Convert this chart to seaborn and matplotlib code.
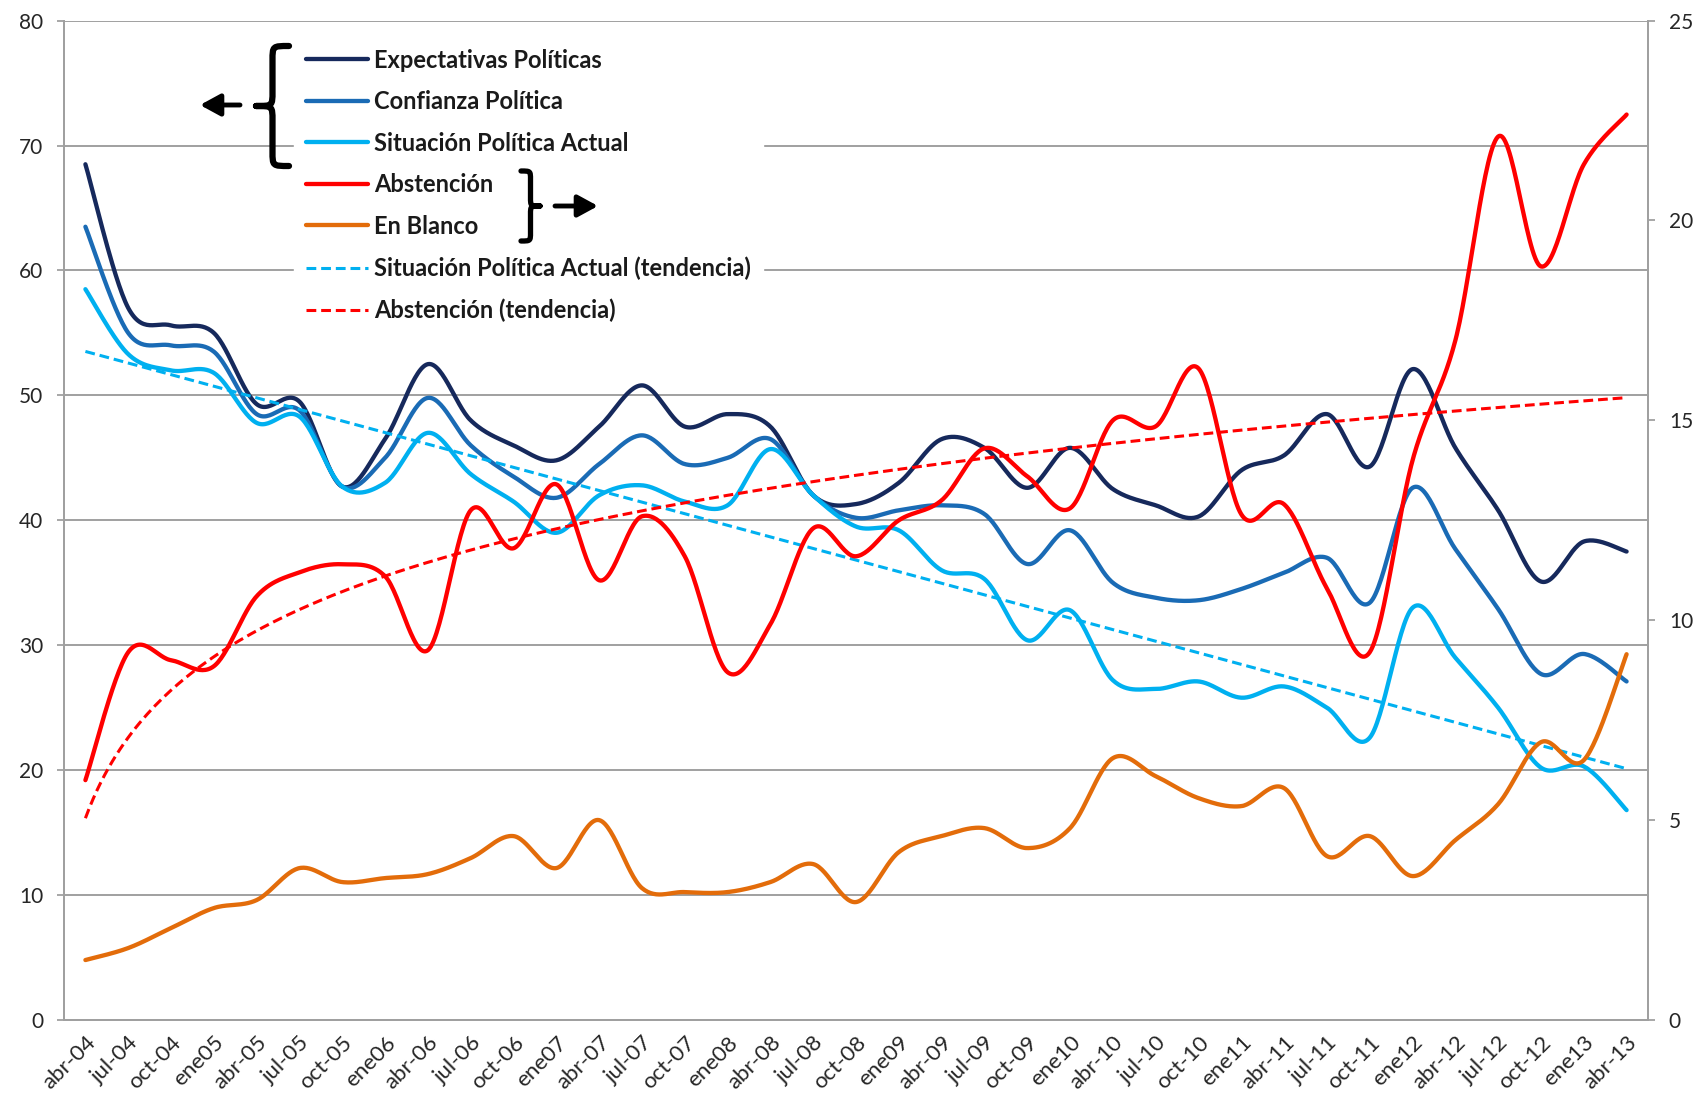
import numpy as np
import pandas as pd
import matplotlib
matplotlib.use("Agg")
import matplotlib.pyplot as plt
import seaborn as sns
from matplotlib.path import Path
from matplotlib.patches import PathPatch
from matplotlib.lines import Line2D

# ---------------- data ----------------
periods = ["abr-04", "jul-04", "oct-04", "ene05", "abr-05", "jul-05", "oct-05", "ene06",
           "abr-06", "jul-06", "oct-06", "ene07", "abr-07", "jul-07", "oct-07", "ene08",
           "abr-08", "jul-08", "oct-08", "ene09", "abr-09", "jul-09", "oct-09", "ene10",
           "abr-10", "jul-10", "oct-10", "ene11", "abr-11", "jul-11", "oct-11", "ene12",
           "abr-12", "jul-12", "oct-12", "ene13", "abr-13"]

expectativas = [68.5, 57.0, 55.6, 55.0, 49.3, 49.5, 42.7, 46.5, 52.5, 48.0, 46.0, 44.8,
                47.5, 50.8, 47.5, 48.5, 47.5, 42.0, 41.3, 43.0, 46.5, 45.8, 42.6, 45.8,
                42.5, 41.2, 40.3, 44.0, 45.2, 48.5, 44.3, 52.1, 45.8, 40.8, 35.1, 38.3, 37.5]

confianza = [63.5, 55.0, 54.0, 53.5, 48.5, 48.8, 42.7, 45.0, 49.8, 46.0, 43.5, 41.8,
             44.5, 46.8, 44.5, 45.0, 46.5, 42.0, 40.2, 40.8, 41.2, 40.5, 36.5, 39.2,
             35.0, 33.8, 33.6, 34.5, 35.8, 37.0, 33.4, 42.6, 37.7, 32.9, 27.7, 29.3, 27.1]

situacion = [58.5, 53.3, 52.0, 51.8, 47.8, 48.3, 42.7, 43.0, 47.0, 43.7, 41.5, 39.0,
             42.0, 42.8, 41.5, 41.2, 45.7, 42.0, 39.5, 39.2, 36.0, 35.3, 30.4, 32.8,
             27.2, 26.5, 27.1, 25.8, 26.7, 25.0, 22.6, 33.0, 29.0, 25.0, 20.2, 20.3, 16.8]

# right axis (0-25)
abstencion = [6.0, 9.2, 9.0, 8.85, 10.6, 11.2, 11.4, 11.1, 9.25, 12.75, 11.8, 13.4,
              11.0, 12.6, 11.6, 8.7, 9.9, 12.3, 11.6, 12.5, 13.0, 14.3, 13.6, 12.8,
              15.0, 14.85, 16.3, 12.65, 12.9, 10.8, 9.2, 14.0, 17.0, 22.1, 18.85, 21.4, 22.65]

en_blanco = [1.5, 1.8, 2.3, 2.8, 3.0, 3.8, 3.45, 3.55, 3.65, 4.05, 4.6, 3.8,
             5.0, 3.3, 3.2, 3.2, 3.45, 3.9, 2.95, 4.2, 4.6, 4.8, 4.3, 4.8,
             6.55, 6.1, 5.55, 5.35, 5.8, 4.1, 4.6, 3.6, 4.5, 5.4, 6.95, 6.5, 9.15]

labels = ["Expectativas Políticas", "Confianza Política", "Situación Política Actual",
          "Abstención", "En Blanco", "Situación Política Actual (tendencia)",
          "Abstención (tendencia)"]

C_EXP = "#16295c"
C_CONF = "#1a6bb5"
C_SIT = "#00b0f0"
C_ABS = "#ff0000"
C_BLA = "#e36c0a"


def smooth(values, n=30):
    """Excel-like smoothed line (Catmull-Rom Bezier through the points)."""
    y = np.asarray(values, float)
    x = np.arange(len(y), dtype=float)
    P = np.column_stack([x, y])
    Pp = np.vstack([P[0], P, P[-1]])
    t = np.linspace(0, 1, n, endpoint=False)[:, None]
    out = []
    for i in range(len(P) - 1):
        p0, p1, p2, p3 = Pp[i], Pp[i + 1], Pp[i + 2], Pp[i + 3]
        c1 = p1 + (p2 - p0) / 6.0
        c2 = p2 - (p3 - p1) / 6.0
        out.append((1 - t) ** 3 * p1 + 3 * (1 - t) ** 2 * t * c1
                   + 3 * (1 - t) * t ** 2 * c2 + t ** 3 * p2)
    out.append(P[-1][None, :])
    S = np.vstack(out)
    return S[:, 0], S[:, 1]


# trend lines (least squares, as the spreadsheet does)
idx = np.arange(1, len(periods) + 1, dtype=float)
s_slope, s_icpt = np.polyfit(idx, situacion, 1)
a_slope, a_icpt = np.polyfit(np.log(idx), abstencion, 1)
xx = np.linspace(1, len(periods), 400)

sns.set_style("white")
plt.rcParams["font.family"] = ["Lato", "DejaVu Sans"]

W, H = 1700, 1111
fig = plt.figure(figsize=(W / 100, H / 100), dpi=100)
ax = fig.add_axes([64 / W, 1 - 1020 / H, (1648 - 64) / W, (1020 - 20.6) / H])
ax2 = ax.twinx()

LW = 3.1
for vals, col in [(expectativas, C_EXP), (confianza, C_CONF), (situacion, C_SIT)]:
    sx, sy = smooth(vals)
    sns.lineplot(x=sx, y=sy, ax=ax, color=col, lw=LW, sort=False, estimator=None,
                 solid_capstyle="round", zorder=3)
sns.lineplot(x=xx - 1, y=s_icpt + s_slope * xx, ax=ax, color=C_SIT, lw=2.2,
             sort=False, estimator=None, zorder=4)
ax.lines[-1].set_dashes([3.2, 1.6])

for vals, col in [(abstencion, C_ABS), (en_blanco, C_BLA)]:
    sx, sy = smooth(vals)
    sns.lineplot(x=sx, y=sy, ax=ax2, color=col, lw=LW, sort=False, estimator=None,
                 solid_capstyle="round", zorder=3)
sns.lineplot(x=xx - 1, y=a_icpt + a_slope * np.log(xx), ax=ax2, color=C_ABS, lw=2.2,
             sort=False, estimator=None, zorder=4)
ax2.lines[-1].set_dashes([3.2, 1.6])

# axes styling
GRID = "#a0a0a0"
TXT = "#262626"
ax.set_xlim(-0.5, len(periods) - 0.5)
ax.set_ylim(0, 80)
ax2.set_ylim(0, 25)
ax.set_yticks(np.arange(0, 81, 10))
ax2.set_yticks(np.arange(0, 26, 5))
ax.set_xticks(np.arange(len(periods)))
ax.set_xticklabels(periods, rotation=45, ha="right", rotation_mode="anchor")
ax.set_xticks(np.arange(len(periods) + 1) - 0.5, minor=True)
ax.tick_params(axis="x", which="major", length=0, pad=9, labelsize=16, labelcolor=TXT)
ax.tick_params(axis="x", which="minor", length=6, width=1.3, color=GRID, direction="out")
ax.tick_params(axis="y", length=5, width=1.3, color=GRID, direction="out", pad=10,
               labelsize=15, labelcolor=TXT)
ax2.tick_params(axis="y", length=5, width=1.3, color=GRID, direction="out", pad=10,
                labelsize=15, labelcolor=TXT)
ax.yaxis.grid(True, color=GRID, lw=1.4)
ax.xaxis.grid(False)
ax.set_axisbelow(True)
for a in (ax, ax2):
    a.set_xlabel("")
    a.set_ylabel("")
    a.spines["top"].set_visible(False)
    for s in ("left", "right", "bottom"):
        a.spines[s].set_color(GRID)
        a.spines[s].set_linewidth(1.4)

# legend
handles = [Line2D([], [], color=C_EXP, lw=LW),
           Line2D([], [], color=C_CONF, lw=LW),
           Line2D([], [], color=C_SIT, lw=LW),
           Line2D([], [], color=C_ABS, lw=LW),
           Line2D([], [], color=C_BLA, lw=LW),
           Line2D([], [], color=C_SIT, lw=2.2, dashes=[3.2, 1.6]),
           Line2D([], [], color=C_ABS, lw=2.2, dashes=[3.2, 1.6])]
leg = ax2.legend(handles, labels, loc="upper left",
                 bbox_to_anchor=(282 / W, 1 - 25 / H), bbox_transform=fig.transFigure,
                 frameon=True, facecolor="white", edgecolor="white", framealpha=1,
                 fancybox=False, borderpad=0.5, handlelength=2.65, handletextpad=0.25,
                 labelspacing=0.785, prop={"weight": "bold", "size": 17})
for t in leg.get_texts():
    t.set_color("#1a1a1a")
leg.set_zorder(10)

# braces and arrows (overlay in pixel coordinates)
ov = fig.add_axes([0, 0, 1, 1], zorder=20)
ov.set_xlim(0, W)
ov.set_ylim(H, 0)
ov.axis("off")
ov.patch.set_visible(False)


def brace(x_end, x_tip, y0, y1, lw=4.5):
    xm = (x_end + x_tip) / 2.0
    ym = (y0 + y1) / 2.0
    q = 0.12 * (y1 - y0)
    verts = [(x_end, y0), (xm, y0), (xm, y0), (xm, y0 + q),
             (xm, ym - q),
             (xm, ym), (xm, ym), (x_tip, ym),
             (xm, ym), (xm, ym), (xm, ym + q),
             (xm, y1 - q),
             (xm, y1), (xm, y1), (x_end, y1)]
    codes = [Path.MOVETO, Path.CURVE4, Path.CURVE4, Path.CURVE4,
             Path.LINETO,
             Path.CURVE4, Path.CURVE4, Path.CURVE4,
             Path.CURVE4, Path.CURVE4, Path.CURVE4,
             Path.LINETO,
             Path.CURVE4, Path.CURVE4, Path.CURVE4]
    ov.add_patch(PathPatch(Path(verts, codes), fill=False, lw=lw, color="black",
                           capstyle="round", joinstyle="round"))


brace(289, 256, 46, 166)
brace(521, 540, 171, 241, lw=3.8)
arrow_kw = dict(arrowstyle="-|>,head_length=0.55,head_width=0.3", lw=3.5,
                color="black", mutation_scale=22, shrinkA=0, shrinkB=0)
ov.annotate("", xy=(200, 105), xytext=(240, 105), arrowprops=arrow_kw)
ov.annotate("", xy=(598, 206), xytext=(555, 206), arrowprops=arrow_kw)

fig.savefig("out.png", dpi=100)
